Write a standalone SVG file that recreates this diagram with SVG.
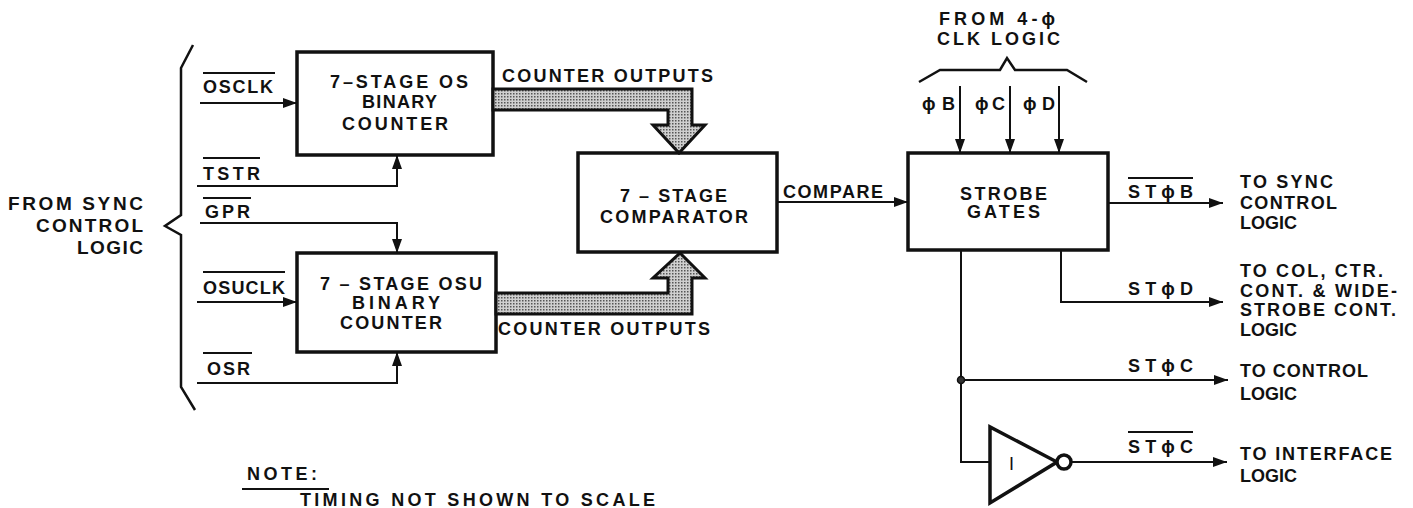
<svg xmlns="http://www.w3.org/2000/svg" width="1413" height="508" viewBox="0 0 1413 508">
<style>
  .t { font-family: "Liberation Sans", Arial, sans-serif; font-weight: bold; font-size: 18px; fill: #111; }
  .tl { font-size: 19px; }
  .box { fill: #fff; stroke: #111; stroke-width: 3.5; }
  .w { fill: none; stroke: #111; stroke-width: 2; }
  .wa { fill: none; stroke: #111; stroke-width: 2; marker-end: url(#arr); }
  .ob { stroke: #111; stroke-width: 2; }
  .bus { fill: url(#dots); stroke: #111; stroke-width: 3; stroke-linejoin: miter; }
  .brace { fill: none; stroke: #111; stroke-width: 2.5; stroke-linejoin: miter; }
</style>
<defs>
  <marker id="arr" markerUnits="userSpaceOnUse" markerWidth="16" markerHeight="12" refX="14" refY="5" orient="auto">
    <path d="M0,0 L14,5 L0,10 Z" fill="#111"/>
  </marker>
  <pattern id="dots" width="3" height="3" patternUnits="userSpaceOnUse">
    <rect width="3" height="3" fill="#cfcfcf"/>
    <rect x="0" y="0" width="1.5" height="1.5" fill="#555"/>
  </pattern>
</defs>
<rect width="1413" height="508" fill="#fff"/>

<g id="source-sync">
  <path class="brace" d="M193,45 L181,68 L181,215 L165,226 L181,235 L181,387 L195,410"/>
  <text class="t tl" x="8" y="210" textLength="135" lengthAdjust="spacing">FROM SYNC</text>
  <text class="t tl" x="36" y="232" textLength="107" lengthAdjust="spacing">CONTROL</text>
  <text class="t tl" x="77" y="254" textLength="66" lengthAdjust="spacing">LOGIC</text>
</g>

<g id="source-clk">
  <path class="brace" d="M919,82 L940,70 L1000,70 L1007,58 L1015,70 L1067,70 L1087,82"/>
  <text class="t" x="939" y="25" textLength="116" lengthAdjust="spacing">FROM 4-ϕ</text>
  <text class="t" x="937" y="45" textLength="123" lengthAdjust="spacing">CLK LOGIC</text>
</g>

<g id="counter-os">
  <rect class="box" x="297" y="52" width="196" height="103"/>
  <text class="t" x="330" y="88" textLength="138" lengthAdjust="spacing">7–STAGE OS</text>
  <text class="t" x="362" y="108" textLength="75" lengthAdjust="spacing">BINARY</text>
  <text class="t" x="342" y="130" textLength="106" lengthAdjust="spacing">COUNTER</text>
</g>

<g id="counter-osu">
  <rect class="box" x="297" y="253" width="199" height="99"/>
  <text class="t" x="320" y="290" textLength="162" lengthAdjust="spacing">7 – STAGE OSU</text>
  <text class="t" x="352" y="309" textLength="88" lengthAdjust="spacing">BINARY</text>
  <text class="t" x="340" y="329" textLength="102" lengthAdjust="spacing">COUNTER</text>
</g>

<g id="comparator">
  <rect class="box" x="578" y="153" width="199" height="99"/>
  <text class="t" x="620" y="202" textLength="107" lengthAdjust="spacing">7 – STAGE</text>
  <text class="t" x="600" y="223" textLength="148" lengthAdjust="spacing">COMPARATOR</text>
</g>

<g id="strobe-gates">
  <rect class="box" x="908" y="153" width="200" height="97"/>
  <text class="t" x="960" y="200" textLength="87" lengthAdjust="spacing">STROBE</text>
  <text class="t" x="967" y="218" textLength="73" lengthAdjust="spacing">GATES</text>
</g>

<g id="inverter">
  <path d="M990,427 L990,503 L1057,462 Z" fill="#fff" stroke="#111" stroke-width="3.5" stroke-linejoin="miter"/>
  <circle cx="1064" cy="462" r="7" fill="#fff" stroke="#111" stroke-width="3.5"/>
  <text class="t" x="1009" y="470" style="font-weight:normal">I</text>
</g>

<g id="connectors">
  <polygon class="bus" points="493,89 692,89 692,125 705,125 679,153 653,125 668,125 668,110 493,110"/>
  <polygon class="bus" points="496,293 668,293 668,278 653,278 680,253 705,278 692,278 692,314 496,314"/>
  <path class="wa" d="M200,103 H297"/>
  <path class="wa" d="M197,186 H397 V155"/>
  <path class="wa" d="M200,223 H397 V253"/>
  <path class="wa" d="M197,302 H297"/>
  <path class="wa" d="M197,383 H397 V352"/>
  <path class="wa" d="M777,202 H908"/>
  <path class="wa" d="M960,86 V153"/>
  <path class="wa" d="M1010,86 V153"/>
  <path class="wa" d="M1059,86 V153"/>
  <path class="wa" d="M1108,203 H1223"/>
  <path class="wa" d="M1061,250 V302 H1223"/>
  <path class="wa" d="M961,250 V380 H1228"/>
  <path class="w" d="M961,380 V462 H990"/>
  <circle cx="961" cy="380" r="3.5" fill="#333" stroke="#111" stroke-width="1.5"/>
  <path class="wa" d="M1071,462 H1227"/>
</g>

<g id="signal-labels">
  <text class="t" x="203" y="93" textLength="70" lengthAdjust="spacing">OSCLK</text>
  <line class="ob" x1="203" y1="73" x2="275" y2="73"/>
  <text class="t" x="203" y="180" textLength="57" lengthAdjust="spacing">TSTR</text>
  <line class="ob" x1="203" y1="158" x2="260" y2="158"/>
  <text class="t" x="205" y="218" textLength="45" lengthAdjust="spacing">GPR</text>
  <line class="ob" x1="203" y1="198" x2="251" y2="198"/>
  <text class="t" x="203" y="294" textLength="82" lengthAdjust="spacing">OSUCLK</text>
  <line class="ob" x1="203" y1="272" x2="285" y2="272"/>
  <text class="t" x="207" y="375" textLength="43" lengthAdjust="spacing">OSR</text>
  <line class="ob" x1="203" y1="353" x2="252" y2="353"/>

  <text class="t" x="502" y="82" textLength="211" lengthAdjust="spacing">COUNTER OUTPUTS</text>
  <text class="t" x="498" y="335" textLength="212" lengthAdjust="spacing">COUNTER OUTPUTS</text>
  <text class="t" x="783" y="198" textLength="100" lengthAdjust="spacing">COMPARE</text>

  <text class="t" x="922" y="110" textLength="33" lengthAdjust="spacing">ϕB</text>
  <text class="t" x="975" y="110" textLength="30" lengthAdjust="spacing">ϕC</text>
  <text class="t" x="1023" y="110" textLength="32" lengthAdjust="spacing">ϕD</text>

  <text class="t" x="1128" y="198" textLength="65" lengthAdjust="spacing">STϕB</text>
  <line class="ob" x1="1128" y1="178" x2="1193" y2="178"/>
  <text class="t" x="1128" y="295" textLength="65" lengthAdjust="spacing">STϕD</text>
  <text class="t" x="1128" y="372" textLength="65" lengthAdjust="spacing">STϕC</text>
  <text class="t" x="1128" y="453" textLength="65" lengthAdjust="spacing">STϕC</text>
  <line class="ob" x1="1128" y1="432" x2="1193" y2="432"/>
</g>

<g id="destinations">
  <text class="t" x="1240" y="188" textLength="93" lengthAdjust="spacing">TO SYNC</text>
  <text class="t" x="1240" y="209" textLength="97" lengthAdjust="spacing">CONTROL</text>
  <text class="t" x="1240" y="229" textLength="57" lengthAdjust="spacing">LOGIC</text>
  <text class="t" x="1240" y="277" textLength="143" lengthAdjust="spacing">TO COL, CTR.</text>
  <text class="t" x="1240" y="297" textLength="157" lengthAdjust="spacing">CONT. &amp; WIDE-</text>
  <text class="t" x="1240" y="316" textLength="156" lengthAdjust="spacing">STROBE CONT.</text>
  <text class="t" x="1240" y="336" textLength="57" lengthAdjust="spacing">LOGIC</text>
  <text class="t" x="1240" y="377" textLength="128" lengthAdjust="spacing">TO CONTROL</text>
  <text class="t" x="1240" y="400" textLength="57" lengthAdjust="spacing">LOGIC</text>
  <text class="t" x="1240" y="460" textLength="152" lengthAdjust="spacing">TO INTERFACE</text>
  <text class="t" x="1240" y="482" textLength="57" lengthAdjust="spacing">LOGIC</text>
</g>

<g id="note">
  <text class="t" x="247" y="480" textLength="70" lengthAdjust="spacing">NOTE:</text>
  <line class="ob" x1="242" y1="489" x2="329" y2="489"/>
  <text class="t" x="300" y="506" textLength="355" lengthAdjust="spacing">TIMING NOT SHOWN TO SCALE</text>
</g>
</svg>
